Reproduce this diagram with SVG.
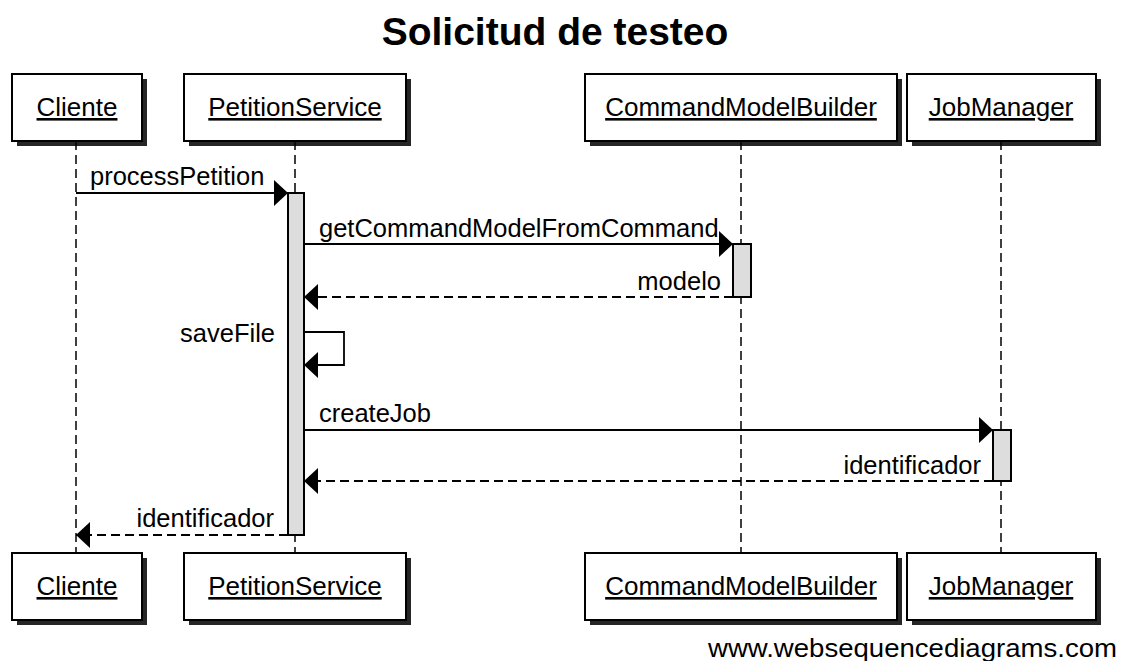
<svg xmlns="http://www.w3.org/2000/svg" width="1129" height="661" viewBox="0 0 1129 661">
<style>
.box{fill:#fff;stroke:#000;stroke-width:2}
.shadow{fill:#000;opacity:0.85}
.act{fill:#ddd;stroke:#000;stroke-width:2}
.life{stroke:#000;stroke-width:1.5;stroke-dasharray:9 5;fill:none}
.msg{stroke:#000;stroke-width:1.8;fill:none}
.ret{stroke:#000;stroke-width:1.8;fill:none;stroke-dasharray:9 5}
.pt{font-family:"Liberation Sans",Arial,sans-serif;font-size:26px;fill:#000;text-anchor:middle;text-decoration:underline}
.lbl{font-family:"Liberation Sans",Arial,sans-serif;font-size:25.5px;fill:#000}
.title{font-family:"Liberation Sans",Arial,sans-serif;font-size:39px;font-weight:bold;fill:#000;text-anchor:middle}
</style>
<defs>
<marker id="ah" markerWidth="15" markerHeight="26" refX="14" refY="13" orient="auto" markerUnits="userSpaceOnUse">
<path d="M0,0 L14,13 L0,26 Z" fill="#000"/>
</marker>
</defs>
<rect width="1129" height="661" fill="#fff"/>
<text class="title" x="555" y="45">Solicitud de testeo</text>

<g id="lifelines">
<line class="life" x1="76" y1="141" x2="76" y2="553"/>
<line class="life" x1="295" y1="141" x2="295" y2="553"/>
<line class="life" x1="741" y1="141" x2="741" y2="553"/>
<line class="life" x1="1001" y1="141" x2="1001" y2="553"/>
</g>

<g id="Cliente">
<rect class="shadow" x="17" y="79" width="130" height="67"/>
<rect class="box" x="12" y="74" width="130" height="67"/>
<text class="pt" x="77" y="116">Cliente</text>
<rect class="shadow" x="17" y="558" width="130" height="67"/>
<rect class="box" x="12" y="553" width="130" height="67"/>
<text class="pt" x="77" y="595">Cliente</text>
</g>

<g id="PetitionService">
<rect class="shadow" x="189" y="79" width="222" height="67"/>
<rect class="box" x="184" y="74" width="222" height="67"/>
<text class="pt" x="295" y="116">PetitionService</text>
<rect class="shadow" x="189" y="558" width="222" height="67"/>
<rect class="box" x="184" y="553" width="222" height="67"/>
<text class="pt" x="295" y="595">PetitionService</text>
<rect class="act" x="288" y="193" width="16" height="342"/>
</g>

<g id="CommandModelBuilder">
<rect class="shadow" x="590" y="79" width="312" height="67"/>
<rect class="box" x="585" y="74" width="312" height="67"/>
<text class="pt" x="741" y="116">CommandModelBuilder</text>
<rect class="shadow" x="590" y="558" width="312" height="67"/>
<rect class="box" x="585" y="553" width="312" height="67"/>
<text class="pt" x="741" y="595">CommandModelBuilder</text>
<rect class="act" x="733" y="244" width="18" height="53"/>
</g>

<g id="JobManager">
<rect class="shadow" x="912" y="79" width="189" height="67"/>
<rect class="box" x="907" y="74" width="189" height="67"/>
<text class="pt" x="1001" y="116">JobManager</text>
<rect class="shadow" x="912" y="558" width="189" height="67"/>
<rect class="box" x="907" y="553" width="189" height="67"/>
<text class="pt" x="1001" y="595">JobManager</text>
<rect class="act" x="993" y="430" width="18" height="51"/>
</g>

<g id="connectors">
<line class="msg" x1="76" y1="193" x2="288" y2="193" marker-end="url(#ah)"/>
<text class="lbl" x="90" y="185">processPetition</text>
<line class="msg" x1="304" y1="244" x2="733" y2="244" marker-end="url(#ah)"/>
<text class="lbl" x="319" y="237">getCommandModelFromCommand</text>
<line class="ret" x1="733" y1="297" x2="304" y2="297" marker-end="url(#ah)"/>
<text class="lbl" x="721" y="290" text-anchor="end">modelo</text>
<polyline class="msg" points="304,332 344,332 344,365 304,365" marker-end="url(#ah)"/>
<text class="lbl" x="275" y="342" text-anchor="end">saveFile</text>
<line class="msg" x1="304" y1="430" x2="993" y2="430" marker-end="url(#ah)"/>
<text class="lbl" x="319" y="422">createJob</text>
<line class="ret" x1="993" y1="481" x2="304" y2="481" marker-end="url(#ah)"/>
<text class="lbl" x="981" y="474" text-anchor="end">identificador</text>
<line class="ret" x1="288" y1="535" x2="76" y2="535" marker-end="url(#ah)"/>
<text class="lbl" x="274" y="527" text-anchor="end">identificador</text>
</g>

<text class="lbl" x="708" y="657" font-size="29" textLength="409" lengthAdjust="spacingAndGlyphs">www.websequencediagrams.com</text>
</svg>
